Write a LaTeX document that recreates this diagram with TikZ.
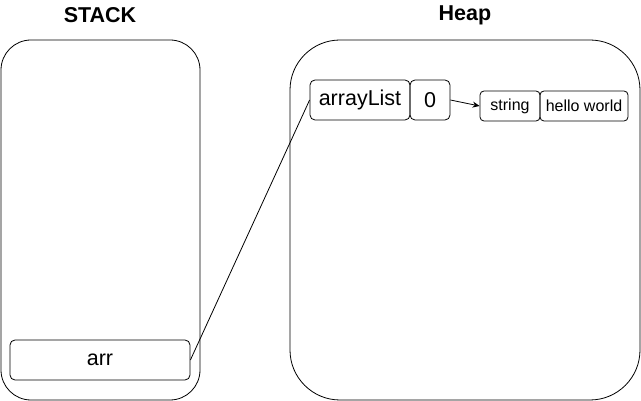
\documentclass[tikz,border=0pt]{standalone}
\usepackage{fontspec}
\setmainfont{Liberation Sans}
\usetikzlibrary{arrows.meta}
\begin{document}
\begin{tikzpicture}[x=1pt,y=-1pt,
  region/.style={draw,line width=0.8pt},
  cell/.style={draw,rounded corners=5pt,line width=0.8pt,inner sep=0pt,minimum height=40pt,font=\fontsize{21.5}{24}\selectfont},
  smallcell/.style={draw,rounded corners=4pt,line width=0.8pt,inner sep=0pt,minimum height=30pt,font=\fontsize{16}{19}\selectfont},
  title/.style={font=\fontsize{21.5}{25}\selectfont\bfseries}]
\useasboundingbox (0,0) rectangle (641,401);
\draw[region,rounded corners=30pt] (1,40) rectangle (200,400);
\draw[region,rounded corners=50pt] (290,40) rectangle (640,400);
\node[title] (stacklbl) at (100,15) {STACK};
\node[title] (heaplbl) at (465,15) {Heap};
\node[cell,minimum width=180pt] (arr) at (100,360) {arr};
\node[cell,minimum width=100pt] (al) at (360,100) {arrayList};
\node[cell,minimum width=40pt] (zero) at (430,100) {0};
\node[smallcell,minimum width=60pt] (str) at (510,106) {string};
\node[smallcell,minimum width=88pt] (hw) at (584,106) {hello world};
\draw[line width=0.8pt] (arr.east) -- (al.west);
\draw[line width=0.8pt,-{Stealth[length=7pt,width=6pt]}] (zero.east) -- (str.west);
\end{tikzpicture}
\end{document}
